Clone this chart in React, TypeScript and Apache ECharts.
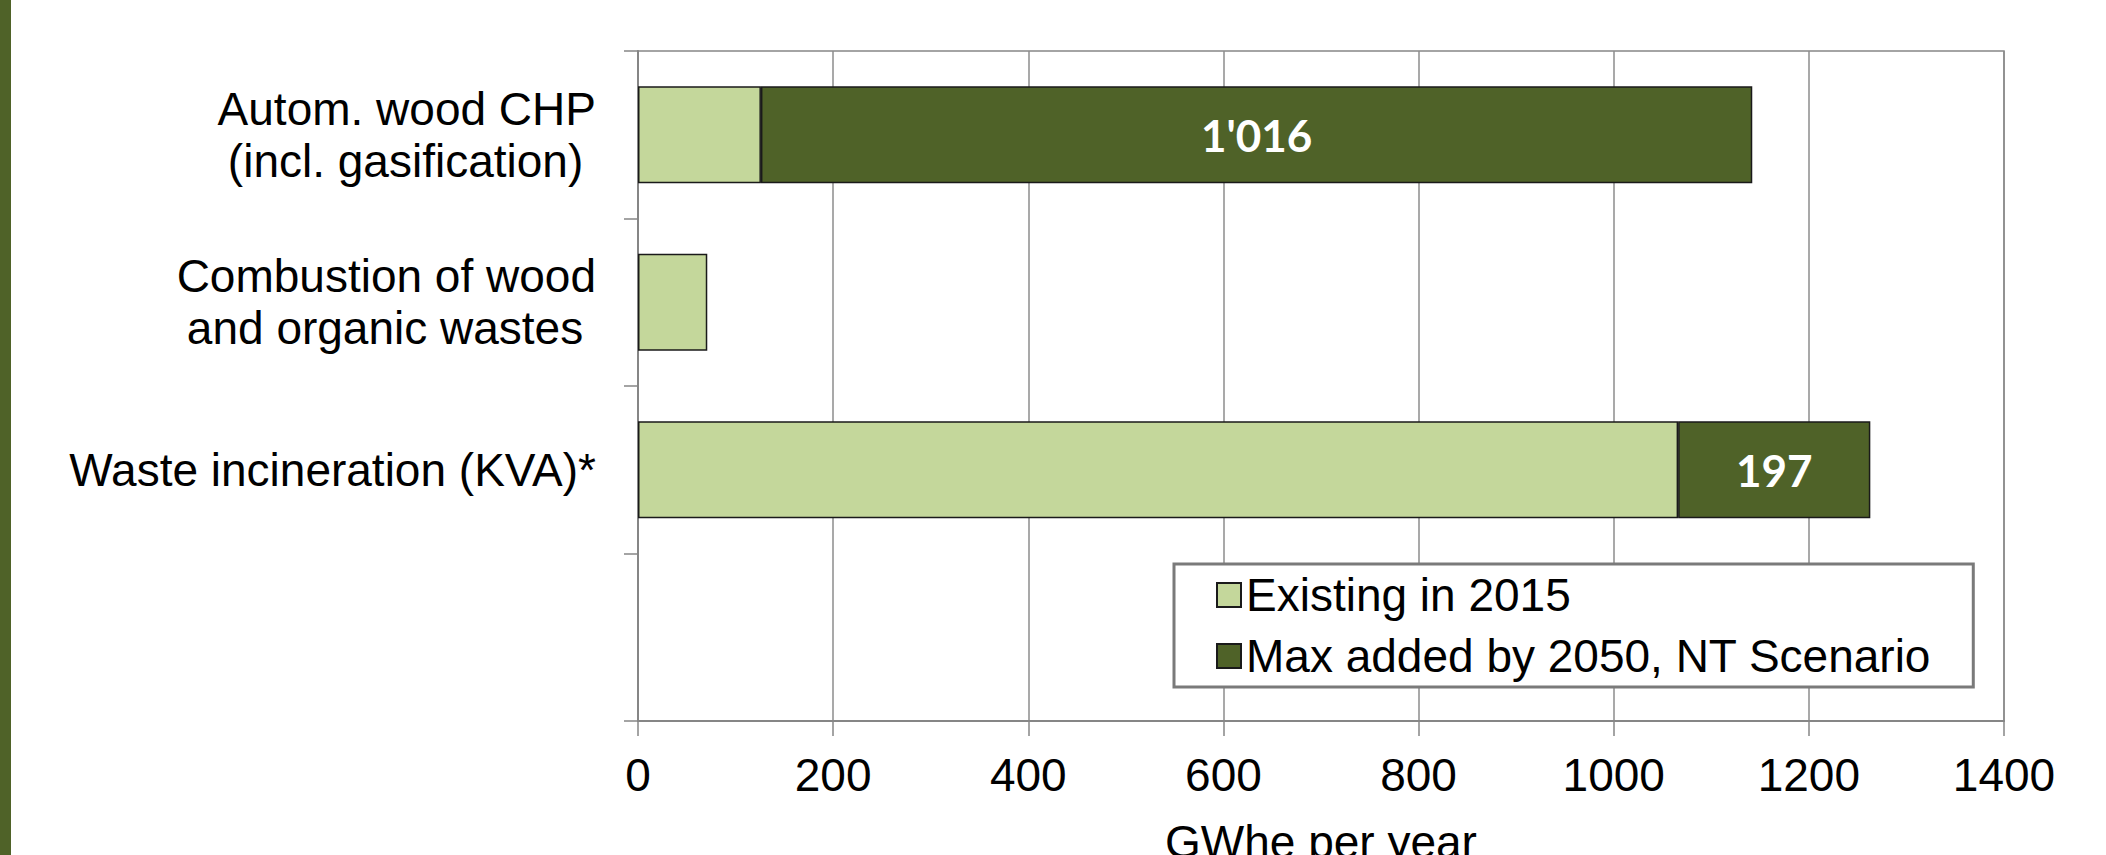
import React, { useEffect, useRef } from "react";
import * as echarts from "echarts";

// Categories from top to bottom (the last row is intentionally empty)
const categories = [
  "Autom. wood CHP\n(incl. gasification)\u00a0",
  "Combustion of wood\nand organic wastes\u00a0",
  "Waste incineration (KVA)*",
  "",
];

// GWhe per year
const existing2015 = [126, 71, 1066, null];
const addedBy2050 = [1016, null, 197, null];

const seriesNames = ["Existing in 2015", "Max added by 2050, NT Scenario"];

const xMin = 0;
const xMax = 1400;
const xInterval = 200;
const xAxisTitle = "GWhe per year";

const LIGHT = "#C4D79B";
const DARK = "#4F6228";
const FONT = "'Liberation Sans', Arial, sans-serif";

// 1016 -> 1'016
const withApostrophes = (v: number) =>
  String(v).replace(/\B(?=(\d{3})+(?!\d))/g, "'");

export default function App() {
  const ref = useRef<HTMLDivElement>(null);

  useEffect(() => {
    if (!ref.current) return;
    document.documentElement.style.overflow = "hidden";
    document.body.style.overflow = "hidden";
    document.body.style.margin = "0";
    const chart = echarts.init(ref.current, undefined, { renderer: "svg" });
    chart.setOption({
      animation: false,
      backgroundColor: "#ffffff",
      textStyle: { fontFamily: FONT },
      graphic: [
        {
          type: "rect",
          left: 0,
          top: 0,
          shape: { width: 11, height: 855 },
          style: { fill: DARK },
          z: 10,
        },
      ],
      grid: {
        left: 638,
        right: 102,
        top: 51,
        bottom: 134,
        outerBoundsMode: "none",
        containLabel: false,
        show: true,
        borderColor: "#868686",
        borderWidth: 1.5,
        backgroundColor: "transparent",
      },
      legend: {
        orient: "vertical",
        left: 1174,
        top: 564,
        data: seriesNames,
        backgroundColor: "#ffffff",
        borderColor: "#7a7a7a",
        borderWidth: 3,
        padding: [8, 42, 8, 42],
        itemWidth: 24,
        itemHeight: 24,
        itemGap: 15,
        icon: "rect",
        textStyle: {
          fontFamily: FONT,
          fontSize: 46,
          lineHeight: 46,
          color: "#000000",
        },
        z: 20,
      },
      xAxis: {
        type: "value",
        min: xMin,
        max: xMax,
        interval: xInterval,
        name: xAxisTitle,
        nameLocation: "middle",
        nameGap: 98,
        nameTextStyle: {
          fontFamily: FONT,
          fontSize: 46,
          lineHeight: 46,
          color: "#000000",
        },
        axisLine: { show: true, lineStyle: { color: "#868686", width: 2 } },
        axisTick: { show: true, length: 15, lineStyle: { color: "#868686", width: 1.5 } },
        axisLabel: {
          margin: 31,
          fontFamily: FONT,
          fontSize: 46,
          lineHeight: 46,
          color: "#000000",
          formatter: (v: number) => String(v),
        },
        splitLine: { show: true, lineStyle: { color: "#8c8c8c", width: 1.5 } },
      },
      yAxis: {
        type: "category",
        inverse: true,
        data: categories,
        axisLine: { show: true, lineStyle: { color: "#868686", width: 2 } },
        axisTick: { show: true, length: 14, lineStyle: { color: "#868686", width: 1.5 } },
        axisLabel: {
          margin: 42,
          fontFamily: FONT,
          fontSize: 46,
          lineHeight: 52,
          color: "#000000",
          align: "right",
        },
        splitLine: { show: false },
      },
      series: [
        {
          name: seriesNames[0],
          type: "bar",
          stack: "total",
          data: existing2015,
          barCategoryGap: "42%",
          itemStyle: { color: LIGHT, borderColor: "#1a1a1a", borderWidth: 1.5 },
        },
        {
          name: seriesNames[1],
          type: "bar",
          stack: "total",
          data: addedBy2050,
          barCategoryGap: "42%",
          itemStyle: { color: DARK, borderColor: "#1a1a1a", borderWidth: 1.5 },
          label: {
            show: true,
            position: "inside",
            color: "#ffffff",
            fontFamily: "Lato, 'Open Sans', sans-serif",
            fontWeight: "bold",
            fontSize: 44,
            formatter: (p: any) => withApostrophes(p.value),
          },
        },
      ],
    });
    return () => chart.dispose();
  }, []);

  return (
    <div
      ref={ref}
      style={{ position: "fixed", left: 0, top: 0, width: 2106, height: 855 }}
    />
  );
}
